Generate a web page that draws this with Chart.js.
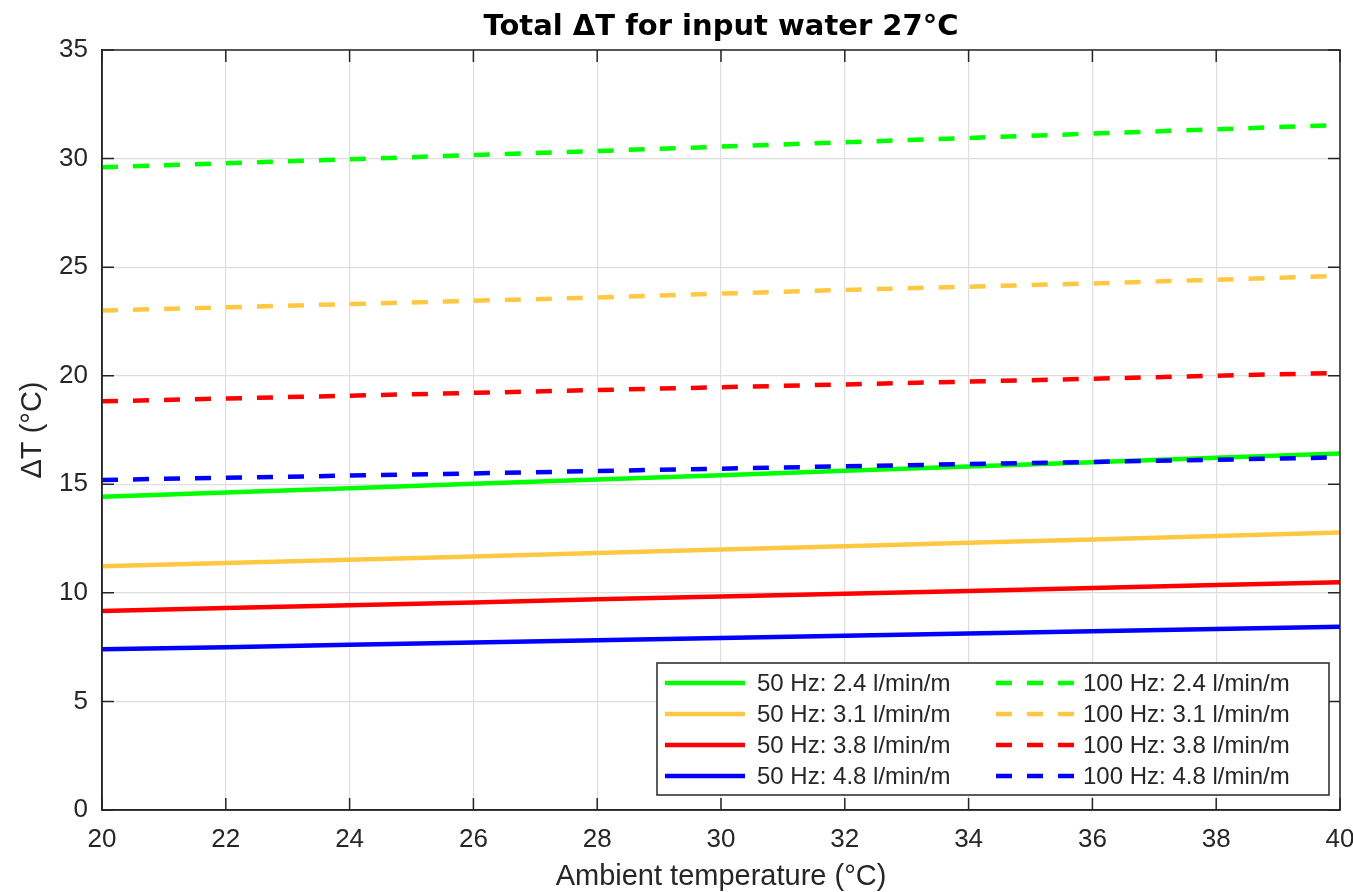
<!DOCTYPE html>
<html>
<head>
<meta charset="utf-8">
<script src="https://cdn.jsdelivr.net/npm/chart.js@4.4.1/dist/chart.umd.min.js"></script>
<style>
  html, body { margin: 0; padding: 0; background: #fff; }
  #wrap { width: 1353px; height: 892px; }
</style>
</head>
<body>
<div id="wrap"><canvas id="myChart"></canvas></div>
<script>
// ambient temperature (x) and total dT per flow
const ambient = [20, 22, 24, 26, 28, 30, 32, 34, 36, 38, 40];
const flows = ["2.4", "3.1", "3.8", "4.8"];
const colors = ["#00ff00", "#ffc843", "#ff0000", "#0000ff"];

const hz50_24 = [14.43, 14.62, 14.82, 15.02, 15.22, 15.42, 15.62, 15.82, 16.02, 16.22, 16.42];
const hz50_31 = [11.22, 11.38, 11.53, 11.68, 11.84, 12.00, 12.15, 12.31, 12.46, 12.62, 12.78];
const hz50_38 = [9.17, 9.30, 9.43, 9.56, 9.70, 9.83, 9.96, 10.09, 10.22, 10.36, 10.49];
const hz50_48 = [7.40, 7.50, 7.61, 7.71, 7.82, 7.92, 8.02, 8.13, 8.23, 8.34, 8.44];

const hz100_24 = [29.60, 29.78, 29.97, 30.16, 30.35, 30.55, 30.75, 30.95, 31.15, 31.35, 31.55];
const hz100_31 = [23.00, 23.15, 23.30, 23.45, 23.60, 23.78, 23.95, 24.10, 24.25, 24.42, 24.60];
const hz100_38 = [18.82, 18.95, 19.08, 19.21, 19.34, 19.47, 19.60, 19.73, 19.86, 20.00, 20.13];
const hz100_48 = [15.20, 15.30, 15.40, 15.50, 15.61, 15.72, 15.83, 15.93, 16.03, 16.13, 16.24];

const xTicks = [20, 22, 24, 26, 28, 30, 32, 34, 36, 38, 40];
const yTicks = [0, 5, 10, 15, 20, 25, 30, 35];

const axisColor = "#262626";
const DASH = [16, 15];

const series50 = [hz50_24, hz50_31, hz50_38, hz50_48];
const series100 = [hz100_24, hz100_31, hz100_38, hz100_48];

function pts(vals) {
    return vals.map((v, i) => ({x: ambient[i], y: v}));
}

let datasets = [];
for (let i = 0; i < flows.length; i++) {
    datasets.push({
        label: "50 Hz: " + flows[i] + " l/min/m",
        data: pts(series50[i]),
        borderColor: colors[i],
        borderWidth: 4.5,
        pointRadius: 0,
        order: 1
    });
}
for (let i = 0; i < flows.length; i++) {
    datasets.push({
        label: "100 Hz: " + flows[i] + " l/min/m",
        data: pts(series100[i]),
        borderColor: colors[i],
        borderWidth: 4.5,
        borderDash: DASH,
        pointRadius: 0,
        order: 0
    });
}

// box, inner tick marks, title and legend (matlab look)
const matlabBits = {
    id: 'matlabBits',
    afterDraw(chart) {
        const ctx = chart.ctx;
        const a = chart.chartArea;
        const xs = chart.scales.x, ys = chart.scales.y;
        ctx.save();
        ctx.strokeStyle = axisColor;
        ctx.lineWidth = 1.5;
        ctx.strokeRect(a.left, a.top, a.right - a.left, a.bottom - a.top);
        ctx.beginPath();
        const tl = 12;
        xTicks.forEach(t => {
            const p = xs.getPixelForValue(t);
            ctx.moveTo(p, a.bottom); ctx.lineTo(p, a.bottom - tl);
            ctx.moveTo(p, a.top); ctx.lineTo(p, a.top + tl);
        });
        yTicks.forEach(t => {
            const p = ys.getPixelForValue(t);
            ctx.moveTo(a.left, p); ctx.lineTo(a.left + tl, p);
            ctx.moveTo(a.right, p); ctx.lineTo(a.right - tl, p);
        });
        ctx.stroke();

        // title
        ctx.fillStyle = "#000";
        ctx.font = "bold 29px 'DejaVu Sans'";
        ctx.textAlign = "center";
        ctx.textBaseline = "middle";
        ctx.fillText("Total ΔT for input water 27°C", (a.left + a.right) / 2, 27);

        // legend box in lower right
        const bx = a.right - 683, by = a.bottom - 147, bw = 672, bh = 132;
        ctx.fillStyle = "#fff";
        ctx.fillRect(bx, by, bw, bh);
        ctx.lineWidth = 1.5;
        ctx.strokeStyle = axisColor;
        ctx.strokeRect(bx, by, bw, bh);
        ctx.font = "24px 'Liberation Sans', Arial";
        ctx.textAlign = "left";
        const rowH = 31;
        chart.data.datasets.forEach((ds, k) => {
            const col = k < 4 ? 0 : 1;
            const row = k % 4;
            const y = by + 20 + row * rowH;
            const lx = bx + 8 + col * 331;
            ctx.beginPath();
            ctx.setLineDash(ds.borderDash || []);
            ctx.strokeStyle = ds.borderColor;
            ctx.lineWidth = 4.5;
            ctx.moveTo(lx, y);
            ctx.lineTo(lx + 80, y);
            ctx.stroke();
            ctx.setLineDash([]);
            ctx.fillStyle = axisColor;
            ctx.fillText(ds.label, lx + (col ? 87 : 92), y + 1);
        });
        ctx.restore();
    }
};

const config = {
    type: 'line',
    data: { datasets },
    options: {
        responsive: true,
        maintainAspectRatio: false,
        animation: false,
        layout: { padding: { top: 50, right: 13, left: 0, bottom: 0 } },
        plugins: {
            legend: { display: false },
            title: { display: false },
            tooltip: { enabled: false }
        },
        scales: {
            x: {
                type: 'linear',
                min: 20,
                max: 40,
                afterFit: (s) => { s.height = 82; s.paddingLeft = 0; s.paddingRight = 0; },
                afterBuildTicks: (s) => { s.ticks = xTicks.map(v => ({value: v})); },
                ticks: {
                    color: axisColor,
                    padding: 14,
                    maxRotation: 0,
                    font: { family: "'Liberation Sans', Arial", size: 26 }
                },
                grid: { color: "#dedede", lineWidth: 1.2, drawTicks: false },
                border: { display: true, color: axisColor, width: 1.5 },
                title: {
                    display: true,
                    text: "Ambient temperature (°C)",
                    color: axisColor,
                    font: { family: "'Liberation Sans', Arial", size: 29, lineHeight: 1 },
                    padding: { top: 0, bottom: 1 }
                }
            },
            y: {
                type: 'linear',
                min: 0,
                max: 35,
                afterFit: (s) => { s.width = 102; s.paddingTop = 0; s.paddingBottom = 0; },
                afterBuildTicks: (s) => { s.ticks = yTicks.map(v => ({value: v})); },
                ticks: {
                    color: axisColor,
                    padding: 14,
                    font: { family: "'Liberation Sans', Arial", size: 26 }
                },
                grid: { color: "#dedede", lineWidth: 1.2, drawTicks: false },
                border: { display: true, color: axisColor, width: 1.5 },
                title: {
                    display: true,
                    text: "ΔT (°C)",
                    color: axisColor,
                    font: { family: "'Liberation Sans', Arial", size: 29, lineHeight: 1 },
                    padding: { top: 18, bottom: 0 }
                }
            }
        }
    },
    plugins: [matlabBits]
};

new Chart(document.getElementById('myChart'), config);
</script>
</body>
</html>
